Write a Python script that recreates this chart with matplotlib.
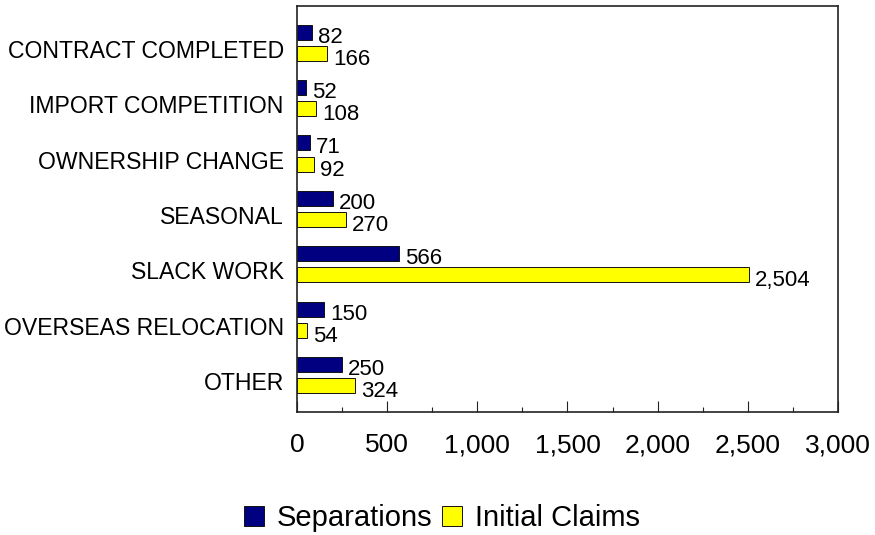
import matplotlib
matplotlib.use("Agg")
import matplotlib.pyplot as plt
from matplotlib import font_manager
from matplotlib.transforms import ScaledTranslation
import numpy as np

categories = ["CONTRACT COMPLETED", "IMPORT COMPETITION", "OWNERSHIP CHANGE",
              "SEASONAL", "SLACK WORK", "OVERSEAS RELOCATION", "OTHER"]
separations = [82, 52, 71, 200, 566, 150, 250]
initial_claims = [166, 108, 92, 270, 2504, 54, 324]
series_names = ["Separations", "Initial Claims"]
xticks = [0, 500, 1000, 1500, 2000, 2500, 3000]

plt.rcParams['font.family'] = ['Liberation Sans', 'DejaVu Sans']

fig = plt.figure(figsize=(8.75, 5.35), dpi=100)
ax = fig.add_axes([0.3394, 0.230, 0.9577 - 0.3394, 0.9888 - 0.230])

n = len(categories)
pos = np.arange(n)[::-1]  # top category first
h = 0.27
off = 0.19
ax.barh(pos + off, separations, height=h, color='#000080', edgecolor='#111111',
        linewidth=0.7, label=series_names[0], zorder=2)
ax.barh(pos - off, initial_claims, height=h, color='#FFFF00', edgecolor='#111111',
        linewidth=0.7, label=series_names[1], zorder=2)

for p, v in zip(pos, separations):
    ax.annotate(f"{v:,}", xy=(v, p + off), xytext=(6, -5), textcoords='offset pixels',
                ha='left', va='center', fontsize=16, color='black', zorder=5)
for p, v in zip(pos, initial_claims):
    ax.annotate(f"{v:,}", xy=(v, p - off), xytext=(6, -6), textcoords='offset pixels',
                ha='left', va='center', fontsize=16, color='black', zorder=5)

ax.set_xlim(0, 3000)
ax.set_ylim(-0.66, n - 1 + 0.66)
ax.set_xticks(xticks)
ax.set_xticklabels([f"{t:,}" for t in xticks], fontsize=19)
ax.set_xticks(np.arange(250, 3000, 500), minor=True)
ax.set_yticks(pos)
ax.set_yticklabels(categories, fontsize=16.6)

ax.tick_params(axis='x', which='major', direction='in', length=8, width=0.8, pad=15.5, colors='#222222', labelcolor='black')
ax.tick_params(axis='x', which='minor', direction='in', length=3.6, width=0.8, colors='#222222')
ax.tick_params(axis='y', which='both', length=0, pad=9.5, labelcolor='black')
for s in ax.spines.values():
    s.set_linewidth(1.2)
    s.set_color('#222222')

# shift category labels slightly downward (after tick_params, which resets transforms)
for lab in ax.get_yticklabels():
    lab.set_transform(lab.get_transform() + ScaledTranslation(0, -6 / 100, fig.dpi_scale_trans))

handles, labels = ax.get_legend_handles_labels()
lp = font_manager.FontProperties(family='Liberation Sans', size=21)
leg = fig.legend(handles, labels, loc='center', bbox_to_anchor=(0.505, 0.031), ncol=2,
                 frameon=False, prop=lp, handlelength=0.7, handleheight=0.7,
                 handletextpad=0.45, columnspacing=0.3, borderaxespad=0, borderpad=0)

fig.savefig("out.png", dpi=100, facecolor='white')
